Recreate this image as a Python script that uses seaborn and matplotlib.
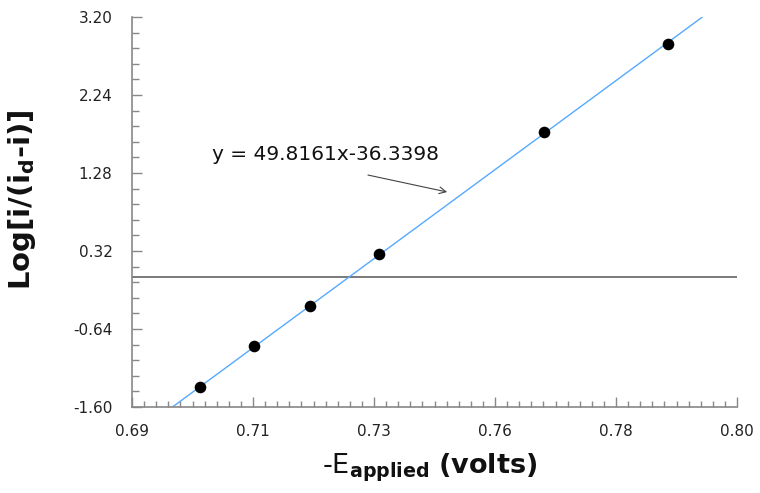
import matplotlib
matplotlib.use("Agg")
import matplotlib.pyplot as plt
from matplotlib.ticker import FixedLocator, FixedFormatter, AutoMinorLocator
import seaborn as sns
import pandas as pd

# ---- data ----
potential = [0.7024, 0.7122, 0.7224, 0.7349, 0.7649, 0.7874]
log_ratio = [-1.352, -0.848, -0.352, 0.283, 1.785, 2.870]

slope = 49.8161
intercept = -36.3398
fit_x = [0.6974, 0.7937]
fit_y = [slope * v + intercept for v in fit_x]

x_ticks = [0.69, 0.712, 0.734, 0.756, 0.778, 0.80]
x_tick_labels = ["0.69", "0.71", "0.73", "0.76", "0.78", "0.80"]
y_ticks = [-1.60, -0.64, 0.32, 1.28, 2.24, 3.20]
y_tick_labels = ["-1.60", "-0.64", "0.32", "1.28", "2.24", "3.20"]

eq_text = "y = 49.8161x-36.3398"
eq_pos = (0.7045, 1.44)
arrow_tail = (0.7329, 1.255)
arrow_head = (0.7473, 1.046)

# ---- style ----
sns.set_theme(style="white")
plt.rcParams["font.family"] = ["DejaVu Sans"]
plt.rcParams["mathtext.fontset"] = "dejavusans"

fig = plt.figure(figsize=(7.6, 4.93), dpi=100)
ax = fig.add_axes([132 / 760, 1 - 407 / 493, 605 / 760, 390 / 493])

df = pd.DataFrame({"x": potential, "y": log_ratio})
fit_df = pd.DataFrame({"x": fit_x, "y": fit_y})

ax.axhline(0, color="#555555", lw=1.1, zorder=1)
sns.lineplot(data=fit_df, x="x", y="y", ax=ax, color="#55AAFF", lw=1.0, zorder=2)
sns.scatterplot(data=df, x="x", y="y", ax=ax, color="black", s=70,
                edgecolor="black", linewidth=0, zorder=3)

ax.set_xlim(0.69, 0.80)
ax.set_ylim(-1.60, 3.20)
ax.xaxis.set_major_locator(FixedLocator(x_ticks))
ax.xaxis.set_major_formatter(FixedFormatter(x_tick_labels))
ax.yaxis.set_major_locator(FixedLocator(y_ticks))
ax.yaxis.set_major_formatter(FixedFormatter(y_tick_labels))
ax.xaxis.set_minor_locator(AutoMinorLocator(10))
ax.yaxis.set_minor_locator(AutoMinorLocator(5))

ax.tick_params(axis="both", which="both", direction="in", colors="#888888",
               labelcolor="#222222", labelsize=11, bottom=True, left=True,
               top=False, right=False)
ax.tick_params(axis="x", which="major", length=7, width=1, pad=12)
ax.tick_params(axis="x", which="minor", length=4, width=1)
ax.tick_params(axis="y", which="major", length=7, width=1, pad=14)
ax.tick_params(axis="y", which="minor", length=5, width=1)

for side in ["top", "right"]:
    ax.spines[side].set_visible(False)
for side in ["left", "bottom"]:
    ax.spines[side].set_color("#888888")
    ax.spines[side].set_linewidth(1.2)

ax.set_xlabel("")
ax.set_ylabel("")

ax.text(eq_pos[0], eq_pos[1], eq_text, ha="left", va="baseline",
        fontsize=14.5, color="#111111")
ax.annotate("", xy=arrow_head, xytext=arrow_tail,
            arrowprops=dict(arrowstyle="->", color="#444444", lw=0.8,
                            shrinkA=0, shrinkB=0))

fig.text(430 / 760, 1 - 473 / 493,
         r"-E$_{\mathbf{applied}}$ $\mathbf{(volts)}$",
         ha="center", va="baseline", fontsize=19.5, color="#111111")
fig.text(22 / 760, 1 - 200 / 493, r"Log[i/(i$_{\mathbf{d}}$-i)]",
         rotation=90, ha="center", va="center", fontsize=21,
         fontweight="bold", color="#111111")

fig.savefig("out.png", dpi=100)
